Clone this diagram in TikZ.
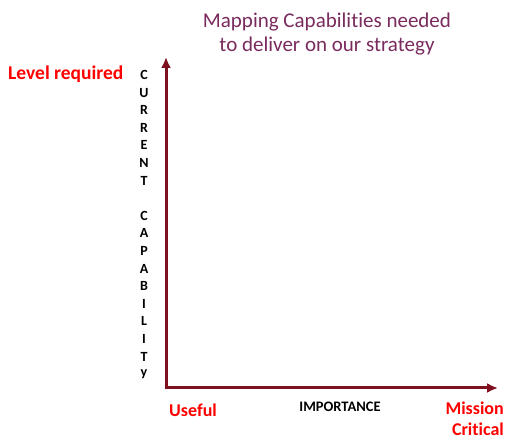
\documentclass[tikz,border=0pt]{standalone}
\usepackage{fontspec}
\setmainfont{Carlito}[Ligatures=NoCommon]
\usepackage{tikz}
\usetikzlibrary{arrows.meta}

\definecolor{axisred}{HTML}{7F1020}
\definecolor{titleplum}{HTML}{7A2B5E}
\definecolor{keyred}{HTML}{FF0000}

\begin{document}
\begin{tikzpicture}[
x=1pt, y=1pt,
 axis/.style = {draw=axisred, line width=3pt,
                {Latex[length=11pt,width=10pt]}-{Latex[length=11pt,width=10pt]}},
  key/.style = {text=keyred, font=\bfseries\fontsize{18}{21}\selectfont,
                inner sep=0pt},% red end labels
letter/.style = {font=\bfseries\fontsize{14}{16}\selectfont, inner sep=0pt},
                        ]
\useasboundingbox (0,0) rectangle (506,439);
% heading
\node[text=titleplum, align=center, font=\fontsize{21}{24}\selectfont]
    (title) at (327,405) {Mapping Capabilities needed\\to deliver on our strategy};
% the two axes
\coordinate (origin) at (166,51);
\coordinate (ytip) at (166,382);
\coordinate (xtip) at (498,51);
\draw[axis] (ytip) -- (origin) -- (xtip);
% vertical axis title, one letter per line
\foreach \l [count=\i] in {C,U,R,R,E,N,T,{},C,A,P,A,B,I,L,I,T,y}% <-- letters top to bottom
    \node[letter] (v\i) at (144,364-17.6*\i+17.6) {\l};
\node[key, anchor=west, font=\bfseries\fontsize{19.5}{22}\selectfont]
    (level) at (8,365) {Level required};
\node[key, anchor=west] (useful) at (169,29) {Useful};
\node[key, anchor=east, align=right] (mission) at (504,20)
    {Mission\\Critical};
\node[font=\bfseries\fontsize{14.5}{16}\selectfont, inner sep=0pt]
    (importance) at (340,32) {IMPORTANCE};
\end{tikzpicture}
\end{document}
